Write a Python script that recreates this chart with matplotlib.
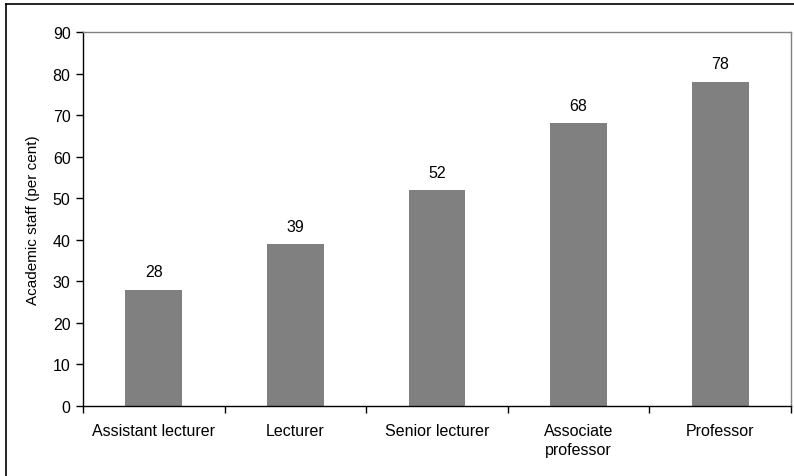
import matplotlib
matplotlib.use("Agg")
import matplotlib.pyplot as plt
from matplotlib.lines import Line2D
import numpy as np

# Share of academic staff by grade
grades = ["Assistant lecturer", "Lecturer", "Senior lecturer",
          "Associate\nprofessor", "Professor"]
shares = [28, 39, 52, 68, 78]

plt.rcParams['font.family'] = ['Liberation Sans', 'DejaVu Sans']

fig = plt.figure(figsize=(7.94, 4.77), dpi=100)
ax = fig.add_axes([83 / 794, 1 - 407 / 477, 708 / 794, 374 / 477])

x = np.arange(len(grades))
bars = ax.bar(x, shares, width=0.4, color='#808080', zorder=2)

for bar, v in zip(bars, shares):
    ax.text(bar.get_x() + bar.get_width() / 2, v + 2.5, str(v),
            ha='center', va='bottom', fontsize=11.5)

ax.set_xlim(-0.5, len(grades) - 0.5)
ax.set_ylim(0, 90)
ax.set_yticks(range(0, 91, 10))
ax.set_xticks(x)
ax.set_xticklabels(grades, fontsize=11.5, linespacing=1.35)
ax.set_xticks(np.arange(-0.5, len(grades), 1.0), minor=True)
ax.tick_params(axis='x', which='major', length=0, pad=12)
ax.tick_params(axis='x', which='minor', length=5, direction='out', width=1)
ax.tick_params(axis='y', length=5, direction='out', width=1, labelsize=11.5, pad=4)
ax.set_ylabel("Academic staff (per cent)", fontsize=11, labelpad=9)

for side in ('top', 'right'):
    ax.spines[side].set_color('#808080')
    ax.spines[side].set_linewidth(1)
for side in ('left', 'bottom'):
    ax.spines[side].set_color('black')
    ax.spines[side].set_linewidth(1)

# outer frame along the left and top edges
fig.add_artist(Line2D([6 / 794, 6 / 794], [0, 1 - 5 / 477], color='black', lw=1.2))
fig.add_artist(Line2D([6 / 794, 1], [1 - 5 / 477, 1 - 5 / 477], color='black', lw=1.2))

fig.savefig("out.png", dpi=100)
